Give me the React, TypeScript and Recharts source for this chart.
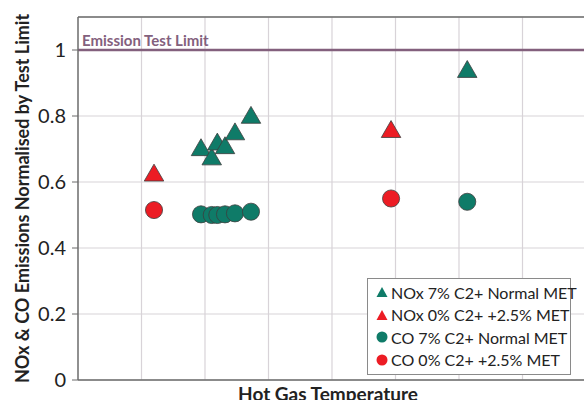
import {
	CartesianGrid,
	Legend,
	ReferenceLine,
	Scatter,
	ScatterChart,
	Symbols,
	XAxis,
	YAxis,
} from "recharts";

// x positions are in grid units along an unlabelled temperature axis
const noxNormalX = [1.937, 2.106, 2.194, 2.315, 2.472, 2.724, 6.13];
const noxNormalY = [0.697, 0.669, 0.714, 0.703, 0.745, 0.795, 0.934];
const noxMetX = [1.197, 4.93];
const noxMetY = [0.62, 0.752];
const coNormalX = [1.937, 2.106, 2.194, 2.315, 2.472, 2.724, 6.13];
const coNormalY = [0.502, 0.5, 0.5, 0.502, 0.505, 0.51, 0.54];
const coMetX = [1.197, 4.93];
const coMetY = [0.515, 0.55];

const xGrid = [1, 2, 3, 4, 5, 6, 7];
const yTicks = [0, 0.2, 0.4, 0.6, 0.8, 1];

const GREEN = "#0f7b68";
const RED = "#ec1c24";
const LIMIT = "#83607d";
const GRID = "#d8d3d8";
const FONT = "Lato, 'Open Sans', sans-serif";

const toPoints = (xs: number[], ys: number[]) =>
	xs.map((x, i) => ({ x, y: ys[i] }));

const series = [
	{ name: "NOx 7% C2+ Normal MET", data: toPoints(noxNormalX, noxNormalY), color: GREEN, type: "triangle" as const },
	{ name: "NOx 0% C2+ +2.5% MET", data: toPoints(noxMetX, noxMetY), color: RED, type: "triangle" as const },
	{ name: "CO 7% C2+ Normal MET", data: toPoints(coNormalX, coNormalY), color: GREEN, type: "circle" as const },
	{ name: "CO 0% C2+ +2.5% MET", data: toPoints(coMetX, coMetY), color: RED, type: "circle" as const },
];

function makeShape(type: "triangle" | "circle", color: string) {
	return (props: any) => (
		<Symbols
			cx={props.cx}
			cy={props.cy}
			type={type}
			size={type === "triangle" ? 165 : 230}
			fill={color}
			stroke="#3d3d3d"
			strokeWidth={0.8}
		/>
	);
}

function LegendBox() {
	return (
		<div
			style={{
				border: "1px solid #8a8a8a",
				background: "#fff",
				padding: "2px 4px 3px 8px",
				fontFamily: FONT,
				fontSize: 16,
				color: "#222",
				width: 204,
				boxSizing: "border-box",
				whiteSpace: "nowrap",
			}}
		>
			{series.map((s) => (
				<div
					key={s.name}
					style={{ display: "flex", alignItems: "center", height: 22.5 }}
				>
					<svg
						width={12}
						height={12}
						style={{ marginRight: 3, flexShrink: 0 }}
					>
						{s.type === "triangle" ? (
							<polygon points="6,1 11.5,11 0.5,11" fill={s.color} />
						) : (
							<circle cx={6} cy={6} r={5.5} fill={s.color} />
						)}
					</svg>
					<span>{s.name}</span>
				</div>
			))}
		</div>
	);
}

function YLabel({ viewBox }: any) {
	const cx = viewBox.x + 22;
	const cy = viewBox.y + viewBox.height / 2;
	return (
		<text
			x={cx}
			y={cy}
			transform={`rotate(-90 ${cx} ${cy})`}
			textAnchor="middle"
			dominantBaseline="central"
			fontFamily={FONT}
			fontWeight="bold"
			fontSize={18}
			fill="#222"
		>
			NOx &amp; CO Emissions Normalised by Test Limit
		</text>
	);
}

function XLabel({ viewBox }: any) {
	return (
		<text
			x={328}
			y={viewBox.y + 21}
			textAnchor="middle"
			fontFamily={FONT}
			fontWeight="bold"
			fontSize={19}
			fill="#222"
		>
			Hot Gas Temperature
		</text>
	);
}

export default function App() {
	return (
		<div
			style={{
				position: "fixed",
				left: 0,
				top: 0,
				width: 584,
				height: 400,
				overflow: "hidden",
				background: "#fff",
			}}
		>
			<ScatterChart
				width={596}
				height={400}
				margin={{ top: 17, right: 10, bottom: 0, left: 0 }}
			>
				<CartesianGrid stroke={GRID} strokeWidth={1.2} vertical={false} />
				{xGrid.map((v) => (
					<ReferenceLine key={v} x={v} stroke={GRID} strokeWidth={1.2} />
				))}
				<XAxis
					type="number"
					dataKey="x"
					domain={[0, 8]}
					tick={false}
					tickLine={false}
					axisLine={{ stroke: "#6b6b6b", strokeWidth: 1.5 }}
					height={20}
					label={<XLabel />}
				/>
				<YAxis
					type="number"
					dataKey="y"
					domain={[0, 1.1]}
					ticks={yTicks}
					width={78}
					tickSize={6}
					tickMargin={6}
					tickLine={{ stroke: "#6b6b6b" }}
					axisLine={{ stroke: "#6b6b6b", strokeWidth: 1.5 }}
					tick={{ fill: "#222", fontSize: 20, fontFamily: FONT }}
					label={<YLabel />}
				/>
				<ReferenceLine y={1.1} stroke="#6b6b6b" strokeWidth={1.5} />
				<ReferenceLine
					y={1}
					stroke={LIMIT}
					strokeWidth={2.5}
					label={{
						value: "Emission Test Limit",
						position: "insideBottomLeft",
						offset: 4,
						fill: LIMIT,
						fontFamily: FONT,
						fontWeight: "bold",
						fontSize: 15,
					}}
				/>
				<Legend
					layout="horizontal"
					verticalAlign="middle"
					wrapperStyle={{ position: "absolute", left: 367, top: 278, width: 204 }}
					content={() => <LegendBox />}
				/>
				{series.map((s) => (
					<Scatter
						key={s.name}
						name={s.name}
						data={s.data}
						fill={s.color}
						shape={makeShape(s.type, s.color)}
						isAnimationActive={false}
					/>
				))}
			</ScatterChart>
		</div>
	);
}
